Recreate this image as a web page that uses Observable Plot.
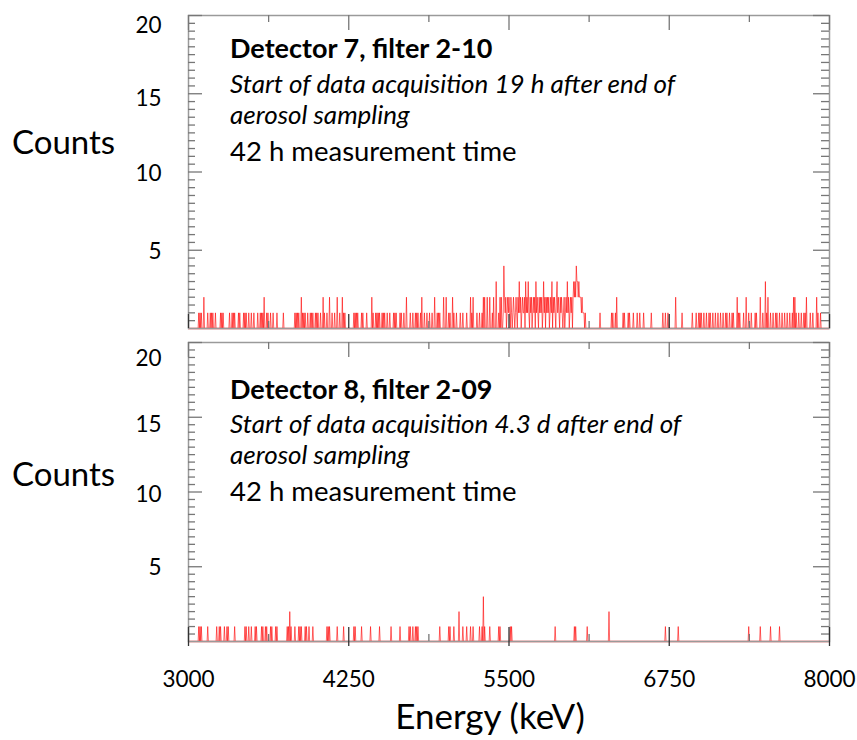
<!DOCTYPE html>
<html>
<head>
<meta charset="utf-8">
<script src="https://cdn.jsdelivr.net/npm/d3@7"></script>
<script src="https://cdn.jsdelivr.net/npm/@observablehq/plot@0.6"></script>
<style>
  body { margin: 0; background: #fff; }
  #chart { position: relative; width: 857px; height: 740px; font-family: Lato, sans-serif; color: #000; overflow: hidden; }
  #chart svg { position: absolute; left: 0; }
  .t { position: absolute; left: 230px; white-space: nowrap; line-height: 1; font-size: 27.5px; }
  .b { font-weight: bold; font-size: 27px; }
  .i { font-style: italic; font-size: 26px; }
  .counts { position: absolute; left: 12px; font-size: 33px; line-height: 1; }
  .xlab { position: absolute; left: 490px; transform: translateX(-50%); font-size: 35px; line-height: 1; white-space: nowrap; }
</style>
</head>
<body>
<div id="chart">
  <div class="counts" style="top:125px">Counts</div>
  <div class="t b" style="top:34px">Detector 7, filter 2-10</div>
  <div class="t i" style="top:70px">Start of data acquisition 19 h after end of</div>
  <div class="t i" style="top:101px">aerosol sampling</div>
  <div class="t" style="top:137px">42 h measurement time</div>

  <div class="counts" style="top:457px">Counts</div>
  <div class="t b" style="top:375px">Detector 8, filter 2-09</div>
  <div class="t i" style="top:410px">Start of data acquisition 4.3 d after end of</div>
  <div class="t i" style="top:441px">aerosol sampling</div>
  <div class="t" style="top:477px">42 h measurement time</div>

  <div class="xlab" style="top:698px">Energy (keV)</div>
</div>
<script>
// Energy axis ticks (keV) and count axis ticks
const xMajorTicks = [3000, 4250, 5500, 6750, 8000];
const xMinorTicks = [3625, 4875, 6125, 7375];
const yMajorTicks = [5, 10, 15, 20];
const yMinorTicks = d3.range(0.5, 20, 0.5).filter(v => v % 5 !== 0);

// Detector 7, filter 2-10: channel energies (keV) holding 1, 2 and 3 counts
const det7One = [3080,3090,3100,3150,3170,3180,3190,3210,3250,3260,3270,3320,3340,3350,3360,3390,3400,3430,3440,3450,3470,3490,3510,3540,3560,3570,3580,3610,3620,3640,3660,3690,3740,
  3830,3840,3850,3860,3890,3900,3910,3930,3950,3960,3970,3990,4000,4010,4030,4060,4080,4120,4140,4180,4210,4220,4290,4300,4310,4320,4350,4360,4390,4440,4460,4470,4480,4490,4510,4520,4530,4550,4570,4600,4610,4620,4650,4660,4680,4730,4750,4770,4780,4790,4810,4840,4860,4880,4900,4940,4950,4960,5030,5040,5070,5090,5120,5140,5170,5210,5250,5270,5290,5370,5420,
  6210,6300,6310,6330,6390,6400,6430,6440,6470,6500,6520,6550,6610,6700,6720,6740,6850,6930,6960,6980,6990,7000,7020,7040,7060,7070,7090,7110,7130,7150,7170,7190,7200,7220,7240,7250,7290,7300,7330,7370,7390,7420,7430,7480,7510,7540,7560,7580,7590,7610,7630,7650,7670,7690,7710,7740,7760,7780,7800,7810,7850,7870,7910,7930];
const det7Two = [3120,3590,3880,4050,4100,4160,4200,4430,4700,4820,4920,4990,5010,5060,5200,5220,5300,5310,5330,5350,5380,5430,5440,
  6340,6800,7280,7350,7460,7520,7720,7730,7820,7900];
const det7Three = [5400, 7500];
// Detector 7: continuous band of counts from 5455 to 6100 keV (5 keV channels)
const det7BandStart = 5455;
const det7BandCounts = [
  1,4,2,1,2,0,1,2,1,2,
  1,0,2,1,0,1,2,1,0,1,
  2,1,0,2,1,3,1,2,0,1,
  2,1,1,2,0,3,1,2,1,3,
  1,0,2,1,2,0,1,2,1,2,
  0,3,1,2,1,0,2,1,2,1,
  2,0,1,3,1,2,0,2,1,2,
  1,2,0,1,2,1,3,0,2,1,
  2,1,0,2,3,1,2,1,0,2,
  1,2,1,0,1,2,0,1,2,1,
  3,1,2,0,1,2,1,2,0,2,
  3,2,3,2,4,3,3,2,3,2,
  2,2,1,2,1,1,1,0,1,0];

// Detector 8, filter 2-09: channel energies (keV) holding 1, 2 and 3 counts
const det8One = [3080,3090,3100,3150,3220,3240,3250,3280,3300,3310,3360,3440,3450,3470,3490,3520,3530,3570,3580,3600,3610,3640,3650,3680,3690,3770,3780,3800,3830,3860,3870,3880,3910,3920,3940,3970,
  4080,4090,4100,4160,4210,4290,4300,4350,4420,4490,4580,4650,4720,4730,4750,4770,4780,4790,4960,5030,5040,5070,5140,5170,5200,5220,5270,5290,5310,5350,5420,5430,5510,5520,
  5860,6010,6020,6110,6720,6820,7370,7460,7540,7610];
const det8Two = [3790, 5110, 6280];
const det8Three = [5300];

const CHANNEL = 5; // keV per channel

// Build the spectrum on the channel grid; channels not listed hold zero counts.
function spectrum(ones, twos, threes, bandStart, bandCounts = []) {
  const counts = new Map();
  ones.forEach(e => counts.set(e, 1));
  twos.forEach(e => counts.set(e, 2));
  threes.forEach(e => counts.set(e, 3));
  bandCounts.forEach((c, i) => counts.set(bandStart + CHANNEL * i, c));
  const pts = [];
  for (let e = 3000; e <= 8000; e += CHANNEL) pts.push({energy: e, count: counts.get(e) ?? 0});
  return pts;
}

const W = 641;           // inner plot width
const tickColor = "#777";

function panel({data, height, marginTop, marginBottom, labelShift, withXAxis}) {
  const H = height - marginTop - marginBottom;
  const yLabel = (v, dy) => Plot.axisY([v], {tickSize: 0, tickPadding: 27, dy, label: null});
  const marks = [
    Plot.line(data, {x: "energy", y: "count", stroke: "#ff0000", strokeWidth: 1, strokeOpacity: 0.6, clip: true}),
    Plot.ruleY([0], {stroke: "#ff4040", strokeWidth: 1.4}),
    Plot.frame({stroke: "#9a9a9a", strokeWidth: 1.5}),
    // inward ticks, left and right edges
    Plot.ruleY(yMinorTicks, {insetRight: W - 7, stroke: tickColor, strokeWidth: 1.3}),
    Plot.ruleY(yMajorTicks, {insetRight: W - 14, stroke: tickColor, strokeWidth: 1.3}),
    Plot.ruleY(yMinorTicks, {insetLeft: W - 8, stroke: tickColor, strokeWidth: 1.3}),
    Plot.ruleY(yMajorTicks, {insetLeft: W - 16, stroke: tickColor, strokeWidth: 1.3}),
    // inward ticks, top and bottom edges
    Plot.ruleX(xMinorTicks, {insetBottom: H - 7, stroke: tickColor, strokeWidth: 1.3}),
    Plot.ruleX(xMajorTicks, {insetBottom: H - 15, stroke: tickColor, strokeWidth: 1.3}),
    Plot.ruleX(xMinorTicks, {insetTop: H - 7, stroke: tickColor, strokeWidth: 1.3}),
    Plot.ruleX(xMajorTicks, {insetTop: H - 14, insetBottom: withXAxis ? -5 : 0, stroke: "#333", strokeWidth: 1.3}),
    // count labels
    yLabel(5, labelShift[0]),
    yLabel(10, labelShift[1]),
    yLabel(15, labelShift[2]),
    yLabel(20, labelShift[3])
  ];
  if (withXAxis) marks.push(Plot.axisX(xMajorTicks, {tickSize: 0, tickPadding: 30, tickFormat: d => String(d), label: null}));
  return Plot.plot({
    width: 857,
    height,
    marginLeft: 188,
    marginRight: 28,
    marginTop,
    marginBottom,
    x: {domain: [3000, 8000], axis: withXAxis ? undefined : null},
    y: {domain: [0, 20]},
    style: {fontFamily: "Lato, sans-serif", fontSize: "22.5px", background: "transparent", color: "#000", overflow: "visible"},
    marks
  });
}

const chart = document.getElementById("chart");

const upperPanel = panel({
  data: spectrum(det7One, det7Two, det7Three, det7BandStart, det7BandCounts),
  height: 340, marginTop: 15, marginBottom: 12,
  labelShift: [1.5, 2, 5, 10],
  withXAxis: false
});
upperPanel.style.top = "0px";
chart.prepend(upperPanel);

const lowerPanel = panel({
  data: spectrum(det8One, det8Two, det8Three),
  height: 400, marginTop: 2, marginBottom: 99,
  labelShift: [1, 3, 8, 16],
  withXAxis: true
});
lowerPanel.style.top = "340px";
chart.prepend(lowerPanel);
</script>
</body>
</html>
